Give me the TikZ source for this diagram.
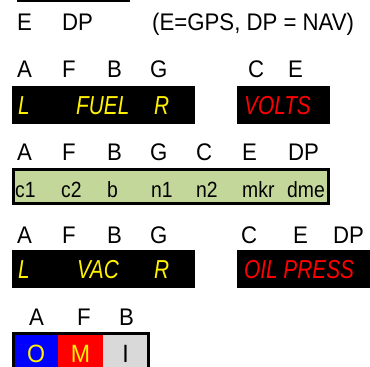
\documentclass[tikz,border=0pt]{standalone}
\usepackage{fontspec}
\setmainfont{Liberation Sans}
\newfontfamily\lblfont[FakeStretch=0.925]{Liberation Sans}
\newfontfamily\grnfont[FakeStretch=0.88]{Liberation Sans}
\newfontfamily\boxfont[FakeStretch=0.80]{Liberation Sans}
\definecolor{panelgreen}{HTML}{C4D79B}
\definecolor{lightgray}{HTML}{D9D9D9}
\tikzset{
  ann/.style={anchor=base west, inner sep=0pt, font=\lblfont\fontsize{24}{24}\selectfont},
  yel/.style={anchor=base west, inner sep=0pt, text=yellow, font=\boxfont\itshape\fontsize{26}{26}\selectfont},
  redt/.style={yel, text=red},
  grn/.style={anchor=base west, inner sep=0pt, font=\grnfont\fontsize{22}{22}\selectfont},
  cell/.style={anchor=base, inner sep=0pt, font=\lblfont\fontsize{25}{25}\selectfont}
}
\begin{document}
\begin{tikzpicture}[x=1pt,y=-1pt]
\useasboundingbox (0,0) rectangle (370,367);
% top rule
\draw[line width=1.6pt] (17,0.8) coordinate (r1) -- (130,0.8) coordinate (r2);
% row 0
\node[ann] (e0) at (17,30) {E};
\node[ann] (dp0) at (62,30) {DP};
\node[ann] (note) at (152,30) {(E=GPS, DP = NAV)};
% row 1 labels
\node[ann] (a1) at (17,77) {A};
\node[ann] (f1) at (62,77) {F};
\node[ann] (b1) at (107,77) {B};
\node[ann] (g1) at (150,77) {G};
\node[ann] (c1) at (248,77) {C};
\node[ann] (ee1) at (288,77) {E};
% fuel panel
\fill[black] (12,86) rectangle (195,124);
\node[yel] (l1) at (18,114) {L};
\node[yel] (fuel) at (76,114) {FUEL};
\node[yel] (r1t) at (154,114) {R};
\fill[black] (237,86) rectangle (330,124);
\node[redt] (volts) at (244,114) {VOLTS};
% row 2 labels
\node[ann] (a2) at (17,160) {A};
\node[ann] (f2) at (62,160) {F};
\node[ann] (b2) at (107,160) {B};
\node[ann] (g2) at (150,160) {G};
\node[ann] (c2) at (196,160) {C};
\node[ann] (ee2) at (242,160) {E};
\node[ann] (dp2) at (288,160) {DP};
% green panel
\draw[line width=3pt, fill=panelgreen] (13.5,169.5) rectangle (328.5,203.5);
\node[grn] (tc1) at (15,197) {c1};
\node[grn] (tc2) at (61,197) {c2};
\node[grn] (tb) at (107,197) {b};
\node[grn] (tn1) at (151,197) {n1};
\node[grn] (tn2) at (196,197) {n2};
\node[grn] (tmkr) at (242,197) {mkr};
\node[grn] (tdme) at (287,197) {dme};
% row 3 labels
\node[ann] (a3) at (17,243) {A};
\node[ann] (f3) at (62,243) {F};
\node[ann] (b3) at (107,243) {B};
\node[ann] (g3) at (150,243) {G};
\node[ann] (c3) at (241,243) {C};
\node[ann] (ee3) at (293,243) {E};
\node[ann] (dp3) at (333,243) {DP};
% vac panel
\fill[black] (12,250) rectangle (195,288);
\node[yel] (l3) at (18,278) {L};
\node[yel] (vac) at (77,278) {VAC};
\node[yel] (r3) at (154,278) {R};
\fill[black] (237,250) rectangle (372,288);
\node[redt] (oil) at (244,278) {OIL PRESS};
% row 4 labels
\node[ann] (a4) at (29,325) {A};
\node[ann] (f4) at (77,325) {F};
\node[ann] (b4) at (119,325) {B};
% OMI panel
\fill[blue] (14,333) rectangle (58,370);
\fill[red] (58,333) rectangle (103,370);
\fill[lightgray] (103,333) rectangle (148,370);
\draw[line width=3pt] (13.5,333.5) rectangle (148.5,372);
\node[cell, text=yellow] (o) at (36,362) {O};
\node[cell, text=yellow] (m) at (80.5,362) {M};
\node[cell] (i) at (125.5,362) {I};
\end{tikzpicture}
\end{document}
